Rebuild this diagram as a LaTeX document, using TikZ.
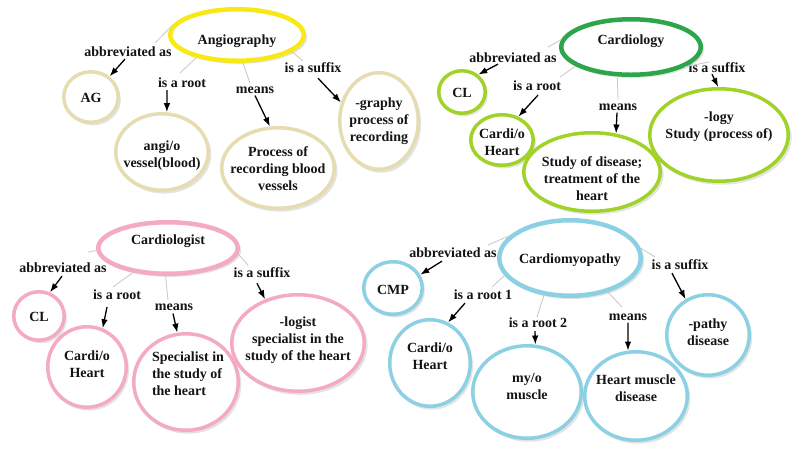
\documentclass[tikz,border=0pt]{standalone}
\usepackage{fontspec}
\setmainfont{Liberation Serif}
\usetikzlibrary{shapes.geometric,arrows.meta,calc,shadows}
\definecolor{cyel}{RGB}{248,232,20}
\definecolor{ctan}{RGB}{230,220,178}
\definecolor{cdgreen}{RGB}{45,165,75}
\definecolor{clgreen}{RGB}{160,210,40}
\definecolor{cpink}{RGB}{244,170,196}
\definecolor{cblue}{RGB}{140,208,228}
\definecolor{cgray}{RGB}{200,200,200}
\definecolor{ctext}{RGB}{20,20,20}
\tikzset{
  bubble/.style={ellipse, line width=3.5pt, inner sep=0pt, fill=white,
    drop shadow={opacity=0.22, shadow xshift=2pt, shadow yshift=-2.5pt, shadow scale=1.02}},
  mainbub/.style={bubble, line width=4.5pt},
  txt/.style={font=\bfseries\fontsize{14}{17}\selectfont, align=center, inner sep=0pt, text=ctext},
  lbl/.style={font=\bfseries\fontsize{14}{17}\selectfont, inner sep=1pt, text=ctext},
  gline/.style={draw=cgray, line width=0.8pt},
  arr/.style={-{Latex[length=9pt,width=6.5pt]}, line width=1.3pt, black},
}
% name, x, y, width, height, style, colour, text dy, text
\newcommand\mybub[9]{%
  \node[#6, draw=#7, minimum width=#4pt, minimum height=#5pt] (#1) at (#2,#3) {};
  \node[txt] (#1t) at ($(#1)+(0,#8)$) {#9};
}
\begin{document}
\begin{tikzpicture}[x=1pt,y=-1pt]
\useasboundingbox[fill=white] (0,0) rectangle (800,451);

% ---------- labels ----------
\node[lbl] (a1) at (128,52) {abbreviated as};
\node[lbl] (r1) at (182,83) {is a root};
\node[lbl] (m1) at (255,90) {means};
\node[lbl] (s1) at (313,68) {is a suffix};

\node[lbl] (a2) at (513,58) {abbreviated as};
\node[lbl] (r2) at (537,86) {is a root};
\node[lbl] (m2) at (618,107) {means};
\node[lbl] (s2) at (717,68) {is a suffix};

\node[lbl] (a3) at (63,268) {abbreviated as};
\node[lbl] (r3) at (117,295) {is a root};
\node[lbl] (m3) at (174,307) {means};
\node[lbl] (s3) at (262,273) {is a suffix};

\node[lbl] (a4) at (453,253) {abbreviated as};
\node[lbl] (r41) at (483,295) {is a root 1};
\node[lbl] (r42) at (538,323) {is a root 2};
\node[lbl] (m4) at (628,317) {means};
\node[lbl] (s4) at (680,265) {is a suffix};

% ---------- Angiography ----------
\mybub{ang}{237}{35}{133.5}{51.5}{mainbub}{cyel}{6}{Angiography}
\mybub{ag}{91}{97}{54.5}{50.5}{bubble}{ctan}{1}{AG}
\mybub{angio}{162}{152}{92.5}{76.5}{bubble}{ctan}{4}{angi/o\\vessel(blood)}
\mybub{proc}{278}{168}{112.5}{80.5}{bubble}{ctan}{1}{Process of\\recording blood\\vessels}
\mybub{graphy}{379}{121}{78.5}{96.5}{bubble}{ctan}{0}{-graphy\\process of\\recording}

% ---------- Cardiology ----------
\mybub{card}{631}{47}{139.5}{55.5}{mainbub}{cdgreen}{-6}{Cardiology}
\mybub{cl1}{462}{92}{46.5}{42.5}{bubble}{clgreen}{1}{CL}
\mybub{cardio1}{502}{140}{62.5}{50.5}{bubble}{clgreen}{2}{Cardi/o\\Heart}
\mybub{study}{592}{172}{136.5}{78.5}{bubble}{clgreen}{7}{Study of disease;\\treatment of the\\heart}
\mybub{logy}{719}{135}{138.5}{92.5}{bubble}{clgreen}{-8}{-logy\\Study (process of)}

% ---------- Cardiologist ----------
\mybub{cist}{168}{248}{139.5}{51.5}{mainbub}{cpink}{-7}{Cardiologist}
\mybub{cl2}{39}{316}{50.5}{48.5}{bubble}{cpink}{1}{CL}
\mybub{cardio2}{87}{367}{78.5}{80.5}{bubble}{cpink}{-3}{Cardi/o\\Heart}
\node[bubble, draw=cpink, minimum width=104.5pt, minimum height=96.5pt] (spec) at (186,382) {};
\node[txt, align=left] (spect) at (188,374) {Specialist in\\the study of\\the heart};
\mybub{logist}{298}{343}{132.5}{96.5}{bubble}{cpink}{-3}{-logist\\specialist in the\\study of the heart}

% ---------- Cardiomyopathy ----------
\mybub{cmyo}{570}{258}{141.5}{75.5}{mainbub}{cblue}{2}{Cardiomyopathy}
\mybub{cmp}{393}{288}{58.5}{52.5}{bubble}{cblue}{2}{CMP}
\mybub{cardio3}{430}{363}{80.5}{86.5}{bubble}{cblue}{-7}{Cardi/o\\Heart}
\mybub{myo}{527}{392}{108.5}{92.5}{bubble}{cblue}{-6}{my/o\\muscle}
\mybub{hmd}{636}{396}{102.5}{88.5}{bubble}{cblue}{-8}{Heart muscle\\disease}
\mybub{pathy}{708}{335}{82.5}{80.5}{bubble}{cblue}{-3}{-pathy\\disease}

% ---------- gray link lines ----------
\draw[gline] (ang.171) -- ($(a1)+(27,-9)$);
\draw[gline] (ang.209) -- ($(r1)+(-2,-10)$);
\draw[gline] (ang.282) -- ($(m1)+(-5,-7)$);
\draw[gline] (ang.343) -- ($(s1)+(-10,-7)$);

\draw[gline] (card.174) -- ($(a2)+(35,-11)$);
\draw[gline] (card.199) -- ($(r2)+(23,-9)$);
\draw[gline] (card.245) -- ($(m2)+(0,-7)$);
\draw[gline] (card.340) -- ($(s2)+(-8,-6)$);

\draw[gline] (cist.182) -- ($(a3)+(25,-16)$);
\draw[gline] (cist.215) -- ($(r3)+(-4,-8)$);
\draw[gline] (cist.265) -- ($(m3)+(-6,-7)$);
\draw[gline] (cist.355) -- ($(s3)+(-14,-8)$);

\draw[gline] (cmyo.160) -- ($(a4)+(35,-8)$);
\draw[gline] (cmyo.195) -- ($(r41)+(9,-8)$);
\draw[gline] (cmyo.235) -- ($(r42)+(-1,-6)$);
\draw[gline] (cmyo.318) -- ($(m4)+(-6,-10)$);
\draw[gline] (cmyo.8) -- ($(s4)+(-25,-8)$);

% ---------- arrows ----------
\draw[arr] ($(a1.south)+(-3,1)$) -- (ag.48);
\draw[arr] ($(r1.south)+(-15,1)$) -- (angio.83);
\draw[arr] ($(m1.south)+(0,1)$) -- (proc.101);
\draw[arr] ($(s1.south)+(5,4)$) -- (graphy.154);

\draw[arr] ($(a2.south)+(-15,0)$) -- (cl1.47);
\draw[arr] ($(r2.south)+(1,3)$) -- (cardio1.55);
\draw[arr] ($(m2.south)+(-1,1)$) -- (study.58);
\draw[arr] ($(s2.south)+(-5,0)$) -- (logy.91);

\draw[arr] ($(a3.south)+(-1,2)$) -- (cl2.65);
\draw[arr] ($(r3.south)+(-10,6)$) -- (cardio2.68);
\draw[arr] ($(m3.south)+(-1,2)$) -- (spec.100);
\draw[arr] ($(s3.south)+(-5,4)$) -- (logist.127);

\draw[arr] ($(a4.south)+(-11,2)$) -- (cmp.26);
\draw[arr] ($(r41.south)+(-18,2)$) -- (cardio3.66);
\draw[arr] ($(r42.south)+(-3,2)$) -- (myo.80);
\draw[arr] ($(m4.south)+(0,1)$) -- (hmd.100);
\draw[arr] ($(s4.south)+(-8,2)$) -- (pathy.122);
\end{tikzpicture}
\end{document}
